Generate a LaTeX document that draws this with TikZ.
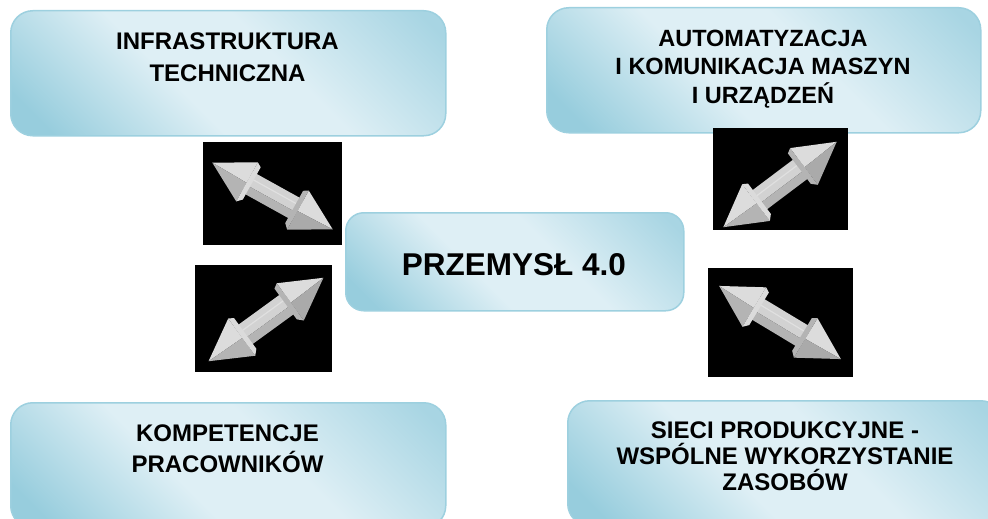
\documentclass[tikz,border=0pt]{standalone}
\usepackage{fontspec}
\setmainfont{Liberation Sans}

% panel colours
\definecolor{paneldark}{HTML}{97CDDD}
\definecolor{panellight}{HTML}{DEEFF5}
\definecolor{panelmid}{HTML}{A8D5E3}
\definecolor{paneledge}{HTML}{9DD0DF}
% arrow faces
\definecolor{facetop}{HTML}{D2D2D2}
\definecolor{facelow}{HTML}{B4B4B4}
\definecolor{headtop}{HTML}{DCDCDC}
\definecolor{headlow}{HTML}{AAAAAA}

\pgfdeclarehorizontalshading{panelsheen}{100bp}{%
  color(0bp)=(paneldark); color(20bp)=(paneldark); color(42bp)=(panellight);
  color(58bp)=(panellight); color(82bp)=(panelmid); color(100bp)=(panelmid)}

\tikzset{
  panel/.style={draw=paneledge, line width=1.5pt, rounded corners=22pt,
    shading=panelsheen, shading angle=45, inner sep=0pt, anchor=north west},
  tile/.style={fill=black, draw=none, inner sep=0pt, anchor=north west},
  caption/.style={anchor=north, align=center, inner sep=0pt, font=\bfseries},
  % a bevelled, double headed grey arrow lying along the x axis
  pics/dblarrow/.style={code={
    % shaft
    \fill[facetop] (-30,-12) rectangle (30,3);
    \fill[facelow] (-30,3) rectangle (30,12);
    \draw[white!88!black, line width=1.2pt] (-28,-5) -- (28,-5);
    % right head
    \fill[headtop] (30,-23) -- (71,0) -- (30,1) -- cycle;
    \fill[headlow] (30,1) -- (71,0) -- (30,23) -- cycle;
    \fill[facelow] (25,-20) -- (30,-23) -- (30,23) -- (25,18) -- cycle;
    % left head
    \fill[headtop] (-30,-23) -- (-71,0) -- (-30,1) -- cycle;
    \fill[facelow] (-30,1) -- (-71,0) -- (-30,23) -- cycle;
    \fill[white!86!black] (-25,-20) -- (-30,-23) -- (-30,23) -- (-25,18) -- cycle;
  }}
}

\begin{document}
\begin{tikzpicture}[x=1pt, y=-1pt]
\useasboundingbox (0,0) rectangle (988,519);
\clip (0,0) rectangle (988,519);

% rounded panels
\node[panel, minimum width=435pt, minimum height=125pt] (infra) at (10,10) {};
\node[panel, minimum width=434pt, minimum height=125pt] (auto) at (546,7) {};
\node[panel, minimum width=338pt, minimum height=98pt, rounded corners=18pt] (core) at (345,212) {};
\node[panel, minimum width=435pt, minimum height=125pt] (skills) at (10,402) {};
\node[panel, minimum width=435pt, minimum height=125pt] (network) at (567,400) {};

% panel captions
\node[caption, font=\bfseries\fontsize{24}{32}\selectfont] (infratxt) at (227.5,32.8)
  {INFRASTRUKTURA\\TECHNICZNA};
\node[caption, font=\bfseries\fontsize{23.5}{28.5}\selectfont] (autotxt) at (763,29.5)
  {AUTOMATYZACJA\\I KOMUNIKACJA MASZYN\\I URZĄDZEŃ};
\node[anchor=base, inner sep=0pt, font=\bfseries\fontsize{31.5}{36}\selectfont] (coretxt) at (514,275)
  {PRZEMYSŁ 4.0};
\node[caption, font=\bfseries\fontsize{24}{31.5}\selectfont] (skillstxt) at (227.5,424.5)
  {KOMPETENCJE\\PRACOWNIKÓW};
\node[caption, font=\bfseries\fontsize{24}{26}\selectfont] (networktxt) at (785,421.5)
  {SIECI PRODUKCYJNE -\\WSPÓLNE WYKORZYSTANIE\\ZASOBÓW};

% black tiles carrying the arrows
\node[tile, minimum width=139pt, minimum height=103pt] (t1) at (203,142) {};
\node[tile, minimum width=135pt, minimum height=102pt] (t2) at (713,128) {};
\node[tile, minimum width=137pt, minimum height=107pt] (t3) at (195,265) {};
\node[tile, minimum width=145pt, minimum height=109pt] (t4) at (708,268) {};

% double headed arrows
\pic[rotate=-29, scale=0.97] (a1) at (272.5,196) {dblarrow};
\pic[rotate=37] (a2) at (780,184.5) {dblarrow};
\pic[rotate=36] (a3) at (266,319.5) {dblarrow};
\pic[rotate=-31] (a4) at (780,322.5) {dblarrow};
\end{tikzpicture}
\end{document}
